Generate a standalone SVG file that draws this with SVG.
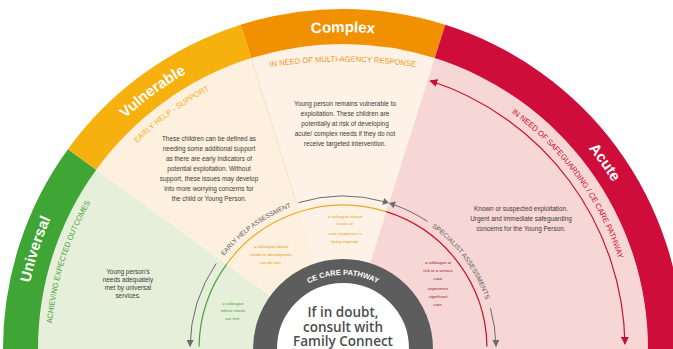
<svg xmlns="http://www.w3.org/2000/svg" width="673" height="349" viewBox="0 0 673 349">
<style>
.title{font-family:"Liberation Sans",Arial,sans-serif;font-weight:bold;font-size:15px;fill:#ffffff}
.sub{font-family:"Liberation Sans",Arial,sans-serif;font-size:7.8px}
.body{font-family:"Liberation Sans",Arial,sans-serif;font-size:6.4px;fill:#3c3c3c;text-anchor:middle}
.tiny{font-family:"Liberation Sans",Arial,sans-serif;font-size:4.2px;text-anchor:middle}
.asmt{font-family:"Liberation Sans",Arial,sans-serif;font-size:6.5px;fill:#5f5f5f}
.gline{fill:none;stroke:#6b6b6b;stroke-width:1}
.cline{fill:none;stroke-width:1.2}
</style>
<defs>
<marker id="arrG" viewBox="0 0 10 10" refX="9" refY="5" markerWidth="7" markerHeight="7" markerUnits="userSpaceOnUse" orient="auto"><path d="M0,0 L10,5 L0,10 Z" fill="#6b6b6b"/></marker>
<marker id="arrR" viewBox="0 0 10 10" refX="9" refY="5" markerWidth="8" markerHeight="8" markerUnits="userSpaceOnUse" orient="auto-start-reverse"><path d="M0,0 L10,5 L0,10 Z" fill="#c8102e"/></marker>
<path id="pUni" d="M24.21,321.37 A320,320 0 0 1 68.78,184.18"/>
<path id="pVul" d="M100.16,145.24 A317,317 0 0 1 219.14,57.20"/>
<path id="pCom" d="M287.95,36.82 A317,317 0 0 1 398.05,36.82"/>
<path id="pAcu" d="M555.11,113.42 A317,317 0 0 1 634.80,225.14"/>
<path id="sUni" d="M52.11,323.55 A292,292 0 0 1 92.71,198.61"/>
<path id="sVul" d="M137.23,143.23 A291,291 0 0 1 213.16,88.58"/>
<path id="sCom" d="M270,67 A500,500 0 0 1 416,67"/>
<path id="sAcu" d="M511.40,112.91 A290,290 0 0 1 619.58,261.79"/>
<path id="tEH" d="M224.01,256.04 A151,151 0 0 1 296.34,205.39"/>
<path id="tSA" d="M431.76,226.84 A151,151 0 0 1 487.01,303.59"/>
<path id="tCE" d="M300.56,288.38 A74,74 0 0 1 385.44,288.38"/>
</defs>

<g id="universal">
<path d="M343,349 L96.25,169.72 A305,305 0 0 0 38,349 Z" fill="#e6efda"/>
<path d="M67.93,149.15 A340,340 0 0 0 3,349 L38,349 A305,305 0 0 1 96.25,169.72 Z" fill="#3fa535"/>
<text class="title"><textPath href="#pUni" startOffset="50%" text-anchor="middle">Universal</textPath></text>
<text class="sub" fill="#4aa33a"><textPath href="#sUni" textLength="128" lengthAdjust="spacingAndGlyphs">ACHIEVING EXPECTED OUTCOMES</textPath></text>
<text class="body"><tspan x="128" y="274">Young person's</tspan><tspan x="128" y="282">needs adequately</tspan><tspan x="128" y="290">met by universal</tspan><tspan x="128" y="297.5">services.</tspan></text>
</g>

<g id="vulnerable">
<path d="M343,349 L251.28,58.12 A305,305 0 0 0 96.25,169.72 Z" fill="#fdf0df"/>
<path d="M240.76,24.74 A340,340 0 0 0 67.93,149.15 L96.25,169.72 A305,305 0 0 1 251.28,58.12 Z" fill="#f6b10f"/>
<text class="title"><textPath href="#pVul" startOffset="50%" text-anchor="middle">Vulnerable</textPath></text>
<text class="sub" fill="#f2b01e"><textPath href="#sVul" textLength="90" lengthAdjust="spacingAndGlyphs">EARLY HELP - SUPPORT</textPath></text>
<text class="body"><tspan x="209" y="140.5">These children can be defined as</tspan><tspan x="209" y="150.5">needing some additional support</tspan><tspan x="209" y="160.5">as there are early indicators of</tspan><tspan x="209" y="170.5">potential exploitation. Without</tspan><tspan x="209" y="181">support, these issues may develop</tspan><tspan x="209" y="191">into more worrying concerns for</tspan><tspan x="209" y="201">the child or Young Person.</tspan></text>
</g>

<g id="complex">
<path d="M343,349 L434.72,58.12 A305,305 0 0 0 251.28,58.12 Z" fill="#fdf2e5"/>
<line x1="251.28" y1="58.12" x2="296.3" y2="202.6" stroke="#f0dcc2" stroke-width="0.8"/>
<path d="M445.24,24.74 A340,340 0 0 0 240.76,24.74 L251.28,58.12 A305,305 0 0 1 434.72,58.12 Z" fill="#f29100"/>
<text class="title"><textPath href="#pCom" startOffset="50%" text-anchor="middle">Complex</textPath></text>
<text class="sub" fill="#f0961c"><textPath href="#sCom" textLength="146" lengthAdjust="spacingAndGlyphs">IN NEED OF MULTI-AGENCY RESPONSE</textPath></text>
<text class="body"><tspan x="345" y="105.5">Young person remains vulnerable to</tspan><tspan x="345" y="115.5">exploitation. These children are</tspan><tspan x="345" y="125.5">potentially at risk of developing</tspan><tspan x="345" y="135.5">acute/ complex needs if they do not</tspan><tspan x="345" y="146">receive targeted intervention.</tspan></text>
</g>

<g id="acute">
<path d="M343,349 L648,349 A305,305 0 0 0 434.72,58.12 Z" fill="#f7d6d6"/>
<path d="M683,349 A340,340 0 0 0 445.24,24.74 L434.72,58.12 A305,305 0 0 1 648,349 Z" fill="#cf0d3a"/>
<text class="title" font-size="16"><textPath href="#pAcu" startOffset="50%" text-anchor="middle">Acute</textPath></text>
<text class="sub" fill="#c8102e"><textPath href="#sAcu" textLength="184" lengthAdjust="spacingAndGlyphs">IN NEED OF SAFEGUARDING / CE CARE PATHWAY</textPath></text>
<text class="body"><tspan x="521" y="210.5">Known or suspected exploitation.</tspan><tspan x="521" y="220.5">Urgent and immediate safeguarding</tspan><tspan x="521" y="230.5">concerns for the Young Person.</tspan></text>
</g>

<g id="connectors">
<path class="cline" stroke="#4aa33a" d="M199.02,346.49 A144,144 0 0 1 226.50,264.36"/>
<path class="cline" stroke="#f0a81e" d="M226.50,264.36 A144,144 0 0 1 386.30,211.66"/>
<path class="cline" stroke="#c8102e" d="M386.30,211.66 A144,144 0 0 1 486.98,346.49"/>
<path class="gline" d="M216.2,263.4 A153,153 0 0 0 190.02,346.33" marker-end="url(#arrG)"/>
<path class="gline" d="M298.27,202.69 A153,153 0 0 1 385.17,201.93"/>
<path class="gline" d="M392.81,204.34 A153,153 0 0 1 427.45,221.41"/>
<path class="gline" d="M490.44,308.11 A153,153 0 0 1 495.98,346.33" marker-end="url(#arrG)"/>
<g transform="translate(389,203.1) rotate(17.5)" fill="#6b6b6b"><path d="M-6,-3.5 L0,0 L-6,3.5 Z"/><path d="M6,-3.5 L0,0 L6,3.5 Z"/></g>
<text class="asmt"><textPath href="#tEH" textLength="84" lengthAdjust="spacingAndGlyphs">EARLY HELP ASSESSMENT</textPath></text>
<text class="asmt"><textPath href="#tSA" textLength="92" lengthAdjust="spacingAndGlyphs">SPECIALIST ASSESSMENTS</textPath></text>
<path d="M430.14,80.8 A282,282 0 0 1 624.96,344.08" fill="none" stroke="#c8102e" stroke-width="1.2" marker-start="url(#arrR)" marker-end="url(#arrR)"/>
<text class="tiny" fill="#4aa33a"><tspan x="233" y="304.5">a colleague</tspan><tspan x="233" y="312">whose needs</tspan><tspan x="233" y="320">are met.</tspan></text>
<text class="tiny" fill="#e39d16"><tspan x="271" y="247.5">a colleague whose</tspan><tspan x="271" y="255.5">needs or development</tspan><tspan x="271" y="263.5">can be met.</tspan></text>
<text class="tiny" fill="#e39d16"><tspan x="345" y="217.5">a colleague whose</tspan><tspan x="345" y="225">issues or</tspan><tspan x="345" y="235">care responses is</tspan><tspan x="345" y="242.5">being inquired.</tspan></text>
<text class="tiny" fill="#8a1c2c" font-size="4"><tspan x="438" y="264">a colleague at</tspan><tspan x="438" y="272">risk or a serious</tspan><tspan x="438" y="280">case</tspan><tspan x="438" y="290">experience</tspan><tspan x="438" y="297.5">significant</tspan><tspan x="438" y="305.5">care.</tspan></text>
</g>

<g id="center">
<circle cx="343" cy="349" r="78" fill="#ffffff" stroke="#5d5d5d" stroke-width="24"/>
<text font-family="Liberation Sans,Arial,sans-serif" font-weight="bold" font-size="7.5" fill="#ffffff"><textPath href="#tCE" startOffset="50%" text-anchor="middle">CE CARE PATHWAY</textPath></text>
<text font-family="'Open Sans',sans-serif" font-weight="600" font-size="13.5" fill="#4d4d4d" text-anchor="middle"><tspan x="343" y="316.5">If in doubt,</tspan><tspan x="343" y="331.5">consult with</tspan><tspan x="343" y="346">Family Connect</tspan></text>
</g>
</svg>
